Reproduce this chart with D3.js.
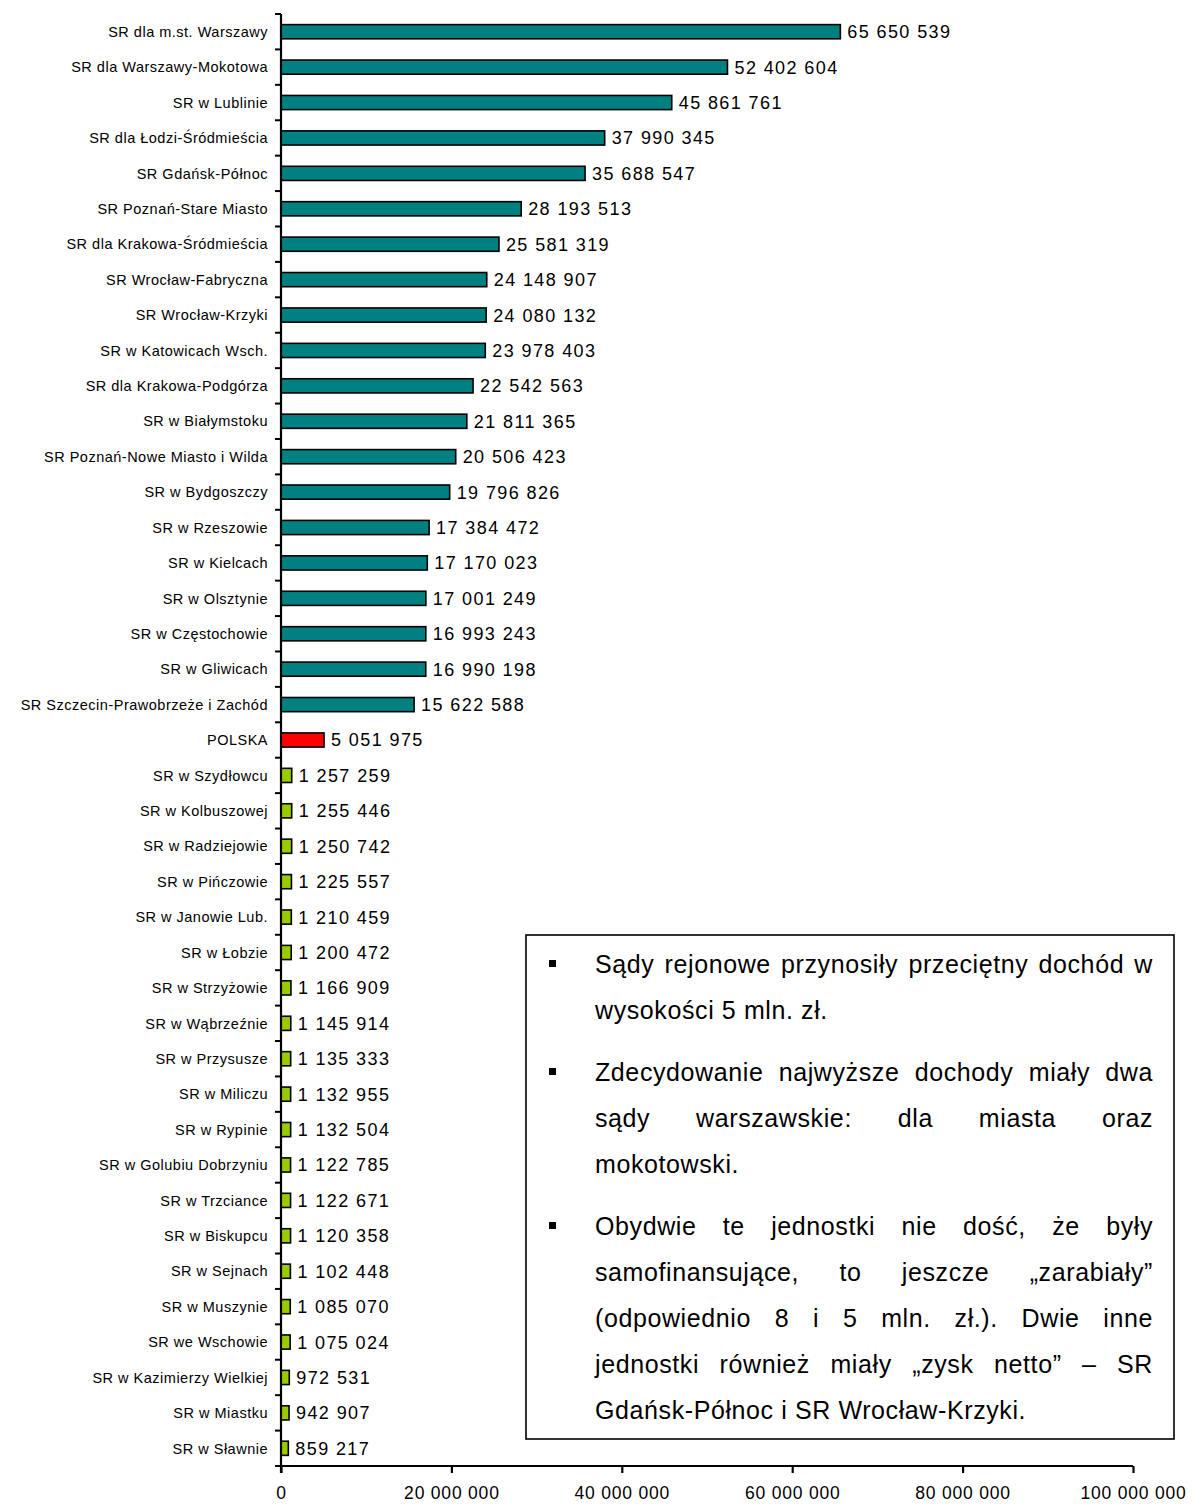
<!DOCTYPE html>
<html>
<head>
<meta charset="utf-8">
<script src="https://cdn.jsdelivr.net/npm/d3@7"></script>
<style>
  body { margin: 0; background: #fff; }
  svg { display: block; font-family: "Liberation Sans", Arial, sans-serif; }
</style>
</head>
<body>
<svg id="chart" width="1193" height="1506"></svg>
<script>
const categories = [
  "SR dla m.st. Warszawy", "SR dla Warszawy-Mokotowa", "SR w Lublinie", "SR dla Łodzi-Śródmieścia",
  "SR Gdańsk-Północ", "SR Poznań-Stare Miasto", "SR dla Krakowa-Śródmieścia", "SR Wrocław-Fabryczna",
  "SR Wrocław-Krzyki", "SR w Katowicach Wsch.", "SR dla Krakowa-Podgórza", "SR w Białymstoku",
  "SR Poznań-Nowe Miasto i Wilda", "SR w Bydgoszczy", "SR w Rzeszowie", "SR w Kielcach",
  "SR w Olsztynie", "SR w Częstochowie", "SR w Gliwicach", "SR Szczecin-Prawobrzeże i Zachód",
  "POLSKA",
  "SR w Szydłowcu", "SR w Kolbuszowej", "SR w Radziejowie", "SR w Pińczowie", "SR w Janowie Lub.",
  "SR w Łobzie", "SR w Strzyżowie", "SR w Wąbrzeźnie", "SR w Przysusze", "SR w Miliczu",
  "SR w Rypinie", "SR w Golubiu Dobrzyniu", "SR w Trzciance", "SR w Biskupcu", "SR w Sejnach",
  "SR w Muszynie", "SR we Wschowie", "SR w Kazimierzy Wielkiej", "SR w Miastku", "SR w Sławnie"
];
const values = [
  65650539, 52402604, 45861761, 37990345, 35688547, 28193513, 25581319, 24148907,
  24080132, 23978403, 22542563, 21811365, 20506423, 19796826, 17384472, 17170023,
  17001249, 16993243, 16990198, 15622588,
  5051975,
  1257259, 1255446, 1250742, 1225557, 1210459, 1200472, 1166909, 1145914, 1135333, 1132955,
  1132504, 1122785, 1122671, 1120358, 1102448, 1085070, 1075024, 972531, 942907, 859217
];
const groups = [
  "top","top","top","top","top","top","top","top","top","top","top","top","top","top","top","top","top","top","top","top",
  "avg",
  "low","low","low","low","low","low","low","low","low","low","low","low","low","low","low","low","low","low","low","low"
];
const xTicks = [0, 20000000, 40000000, 60000000, 80000000, 100000000];
const groupColors = { top: "#008080", avg: "#FF0000", low: "#99CC00" };

const notes = [
  ["Sądy rejonowe przynosiły przeciętny dochód w", "wysokości 5 mln. zł."],
  ["Zdecydowanie najwyższe dochody miały dwa", "sądy warszawskie: dla miasta oraz", "mokotowski."],
  ["Obydwie te jednostki nie dość, że były", "samofinansujące, to jeszcze „zarabiały”",
   "(odpowiednio 8 i 5 mln. zł.). Dwie inne", "jednostki również miały „zysk netto” – SR",
   "Gdańsk-Północ i SR Wrocław-Krzyki."]
];

const fmt = v => String(v).replace(/\B(?=(\d{3})+(?!\d))/g, " ");

const svg = d3.select("#chart");
const x = d3.scaleLinear().domain([0, 100000000]).range([281, 1133]);
const y = d3.scaleBand().domain(categories).range([14, 1466]).paddingInner(0.6).paddingOuter(0.3);
const step = y.step();
const gapHalf = (step - y.bandwidth()) / 2;

// bars
svg.append("g").selectAll("rect").data(values).join("rect")
  .attr("x", x(0))
  .attr("y", (d, i) => y(categories[i]))
  .attr("width", d => x(d) - x(0))
  .attr("height", y.bandwidth())
  .attr("fill", (d, i) => groupColors[groups[i]])
  .attr("stroke", "#000")
  .attr("stroke-width", 1.6);

// value labels
svg.append("g").selectAll("text").data(values).join("text")
  .attr("x", d => x(d) + 7)
  .attr("y", (d, i) => y(categories[i]) + y.bandwidth() / 2)
  .attr("dy", "0.36em")
  .attr("font-size", 18)
  .attr("letter-spacing", 1.4)
  .attr("fill", "#000")
  .text(d => fmt(d));

// category labels
svg.append("g").selectAll("text").data(categories).join("text")
  .attr("x", 268)
  .attr("y", d => y(d) + y.bandwidth() / 2)
  .attr("dy", "0.36em")
  .attr("text-anchor", "end")
  .attr("font-size", 14.5)
  .attr("letter-spacing", 0.5)
  .attr("fill", "#000")
  .text(d => d);

// y axis line + ticks at category boundaries
const yAxisG = svg.append("g");
yAxisG.append("line")
  .attr("x1", x(0)).attr("x2", x(0))
  .attr("y1", y.range()[0]).attr("y2", y.range()[1] + 7)
  .attr("stroke", "#000").attr("stroke-width", 2.2);
const boundaries = categories.map(c => y(c) - gapHalf).concat([y.range()[1]]);
yAxisG.selectAll("line.tick").data(boundaries).join("line")
  .attr("class", "tick")
  .attr("x1", x(0) - 6).attr("x2", x(0))
  .attr("y1", d => d).attr("y2", d => d)
  .attr("stroke", "#000").attr("stroke-width", 2);

// x axis
const xAxis = d3.axisBottom(x).tickValues(xTicks).tickSize(7).tickPadding(14)
  .tickFormat(d => fmt(d));
const xg = svg.append("g").attr("transform", `translate(0,${y.range()[1]})`).call(xAxis);
xg.select(".domain").attr("stroke", "#000").attr("stroke-width", 2.2)
  .attr("d", `M${x(0) - 6},0H${x(100000000)}`);
xg.selectAll(".tick line").attr("stroke", "#000").attr("stroke-width", 2.2);
xg.selectAll(".tick text")
  .attr("font-family", "'Liberation Sans', Arial, sans-serif")
  .attr("font-size", 17.5).attr("letter-spacing", 0.8).attr("fill", "#000");

// notes box
const box = { x0: 526, y0: 935, x1: 1174, y1: 1439 };
svg.append("rect")
  .attr("x", box.x0).attr("y", box.y0)
  .attr("width", box.x1 - box.x0).attr("height", box.y1 - box.y0)
  .attr("fill", "#fff").attr("stroke", "#000").attr("stroke-width", 1.6);

const textLeft = 595, textRight = 1153;
const lineGap = 46, paraGap = 62;
const notesG = svg.append("g").attr("font-size", 25).attr("fill", "#000").attr("letter-spacing", 0.6);
let baseline = 973;
notes.forEach((para, pi) => {
  if (pi > 0) baseline += paraGap - lineGap;
  notesG.append("rect")
    .attr("x", 549).attr("y", baseline - 13).attr("width", 7).attr("height", 7).attr("fill", "#000");
  para.forEach((line, li) => {
    const isLast = li === para.length - 1;
    const words = line.split(" ");
    if (isLast || words.length < 2) {
      notesG.append("text").attr("x", textLeft).attr("y", baseline).text(line);
    } else {
      const nodes = words.map(w => notesG.append("text").attr("y", baseline).text(w));
      const widths = nodes.map(n => n.node().getComputedTextLength());
      const total = d3.sum(widths);
      const gap = (textRight - textLeft - total) / (words.length - 1);
      let cx = textLeft;
      nodes.forEach((n, k) => { n.attr("x", cx); cx += widths[k] + gap; });
    }
    baseline += lineGap;
  });
});
</script>
</body>
</html>
